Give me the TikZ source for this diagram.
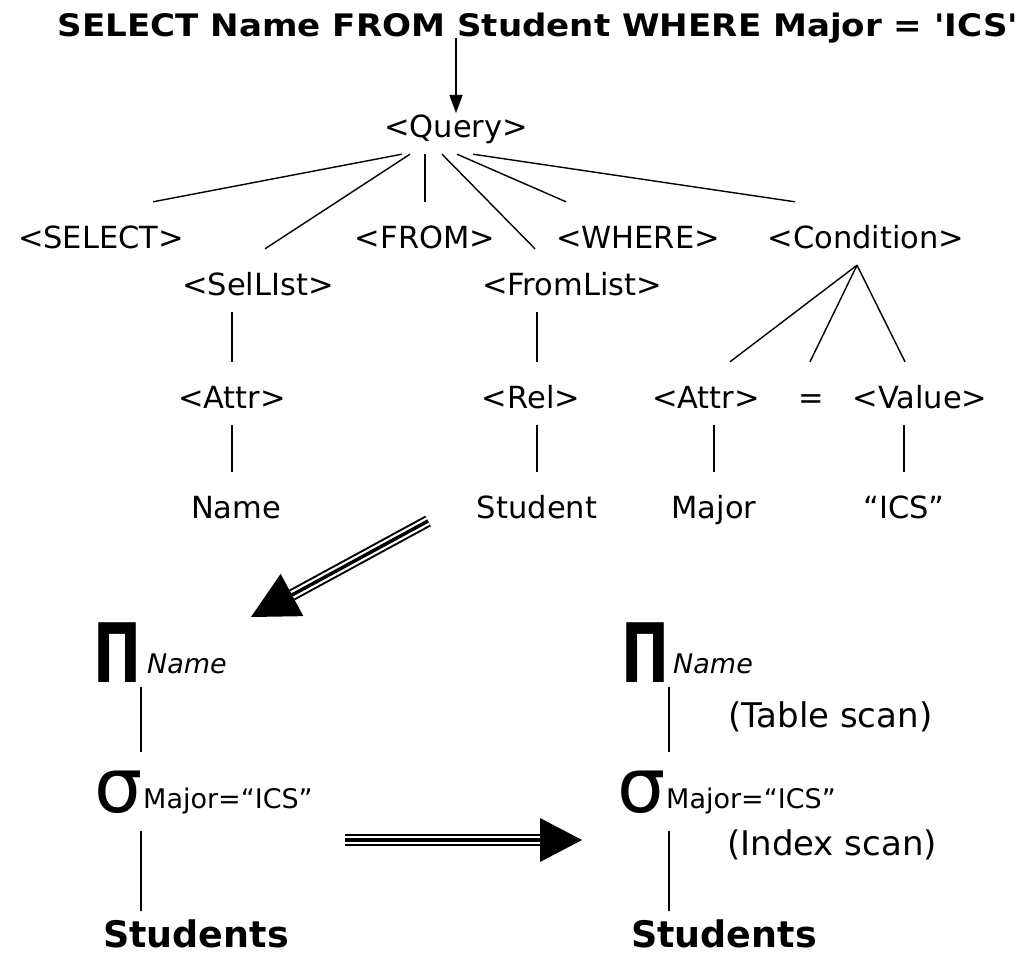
\documentclass[tikz,border=0pt]{standalone}
\usepackage{fontspec}
\setmainfont{DejaVu Sans}[ItalicFont={DejaVu Sans Oblique},BoldFont={DejaVu Sans Bold},BoldItalicFont={DejaVu Sans Bold Oblique}]
\usetikzlibrary{calc,arrows.meta}
\begin{document}
\begin{tikzpicture}[x=1pt,y=-1pt,
  titletext/.style={font=\fontsize{31}{36}\selectfont\bfseries, inner sep=0pt, anchor=base},
  treetext/.style={font=\fontsize{30.5}{36}\selectfont, inner xsep=0pt, inner ysep=6pt,
                   text height=40pt, text depth=11pt, anchor=base},
  edge/.style={line width=1.4pt},
  subtext/.style={font=\fontsize{27}{32}\selectfont, inner sep=0pt, anchor=base west},
  scantext/.style={font=\fontsize{34}{40}\selectfont, inner sep=0pt, anchor=base west},
  pisym/.style={font=\fontsize{82}{90}\selectfont\bfseries, inner sep=0pt, anchor=base east},
  sigsym/.style={font=\fontsize{76}{84}\selectfont, inner sep=0pt, anchor=base east},
  studtext/.style={font=\fontsize{36.5}{42}\selectfont\bfseries, inner sep=0pt, anchor=base},
  shaftrim/.style={line width=2pt, double=white, double distance=8pt},
  shaftcore/.style={line width=3.5pt}
]
\useasboundingbox (0,0) rectangle (1027,955);

% SQL statement
\node[titletext] (sql) at (538,37)
  {\scalebox{1.1}[1]{SELECT Name FROM Student WHERE Major = \textquotesingle ICS\textquotesingle}};

% parse tree
\node[treetext] (query)    at (456,137) {<Query>};
\node[treetext] (select)   at (101,248) {<SELECT>};
\node[treetext] (from)     at (425,248) {<FROM>};
\node[treetext] (where)    at (638,248) {<WHERE>};
\node[treetext] (cond)     at (866,248) {<Condition>};
\node[treetext] (sellist)  at (258,295) {<SelLIst>};
\node[treetext] (fromlist) at (572,295) {<FromList>};
\node[treetext] (attr1)    at (232,408) {<Attr>};
\node[treetext] (rel)      at (531,408) {<Rel>};
\node[treetext] (attr2)    at (706,408) {<Attr>};
\node[treetext] (eq)       at (811,408) {=};
\node[treetext] (value)    at (920,408) {<Value>};
\node[treetext] (name1)    at (236,518) {Name};
\node[treetext] (student)  at (537,518) {Student};
\node[treetext] (major)    at (714,518) {Major};
\node[treetext] (ics)      at (904,518) {“ICS”};

\draw[edge, -{Triangle[length=18pt,width=13pt]}]
  ([yshift=-1pt]sql.base -| query) -- ($(query.base)+(0,-24)$);

\draw[edge] ([xshift=-54pt]query.south) -- ([xshift=52pt]select.north);
\draw[edge] ([xshift=-46pt]query.south) -- ([xshift=7pt]sellist.north);
\draw[edge] (from.north |- query.south) -- (from.north);
\draw[edge] ([xshift=-14pt]query.south) -- ([xshift=-37pt]fromlist.north);
\draw[edge] ([xshift=1pt]query.south) -- ([xshift=-72pt]where.north);
\draw[edge] ([xshift=17pt]query.south) -- ([xshift=-71pt]cond.north);

\draw[edge] (sellist.south -| attr1) -- (attr1.north);
\draw[edge] (attr1.south) -- (attr1.south |- name1.north);
\draw[edge] (fromlist.south -| student) -- (rel.north -| student);
\draw[edge] (rel.south -| student) -- (student.north);

\draw[edge] ([xshift=-9pt]cond.south) -- ([xshift=24pt]attr2.north);
\draw[edge] ([xshift=-9pt]cond.south) -- ([xshift=-1pt]eq.north);
\draw[edge] ([xshift=-9pt]cond.south) -- ([xshift=-15pt]value.north);
\draw[edge] (attr2.south -| major) -- (major.north);
\draw[edge] (value.south -| ics) -- (ics.north);

% logical plan
\node[pisym]    (pi1)  at (142,682) {\scalebox{0.7}[1]{Π}};
\node[subtext]  (pn1)  at (147,673) {\itshape Name};
\node[sigsym]   (sig1) at (143,812) {σ};
\node[subtext]  (sc1)  at (143,808) {Major=“ICS”};
\node[studtext] (stud1) at (196,947) {Students};

\draw[edge] ($(pi1.south east)+(-1,5)$) -- ($(pi1.south east |- sig1.north)+(-1,-18)$);
\draw[edge] ($(pi1.south east |- sig1.south)+(-1,18)$) -- ($(pi1.south east |- stud1.north)+(-1,-8)$);

% physical plan
\node[pisym]    (pi2)  at (670,682) {\scalebox{0.7}[1]{Π}};
\node[subtext]  (pn2)  at (673,673) {\itshape Name};
\node[sigsym]   (sig2) at (666,812) {σ};
\node[subtext]  (sc2)  at (666,808) {Major=“ICS”};
\node[scantext] (tscan) at (728,727) {(Table scan)};
\node[scantext] (iscan) at (727,855) {(Index scan)};
\node[studtext] (stud2) at (724,947) {Students};

\draw[edge] ($(pi2.south east)+(-1,5)$) -- ($(pi2.south east |- sig2.north)+(-1,-18)$);
\draw[edge] ($(pi2.south east |- sig2.south)+(-1,18)$) -- ($(pi2.south east |- stud2.north)+(-1,-8)$);

% translation arrows
\coordinate (dS) at (428,521);
\coordinate (dB) at (292,595);
\coordinate (dT) at (251,617);
\draw[shaftrim] (dS) -- (dB);
\draw[shaftcore] (dS) -- (dB);
\fill (dT) -- ($(dB)!24pt!90:(dT)$) -- ($(dB)!24pt!-90:(dT)$) -- cycle;

\coordinate (hS) at (345,840);
\coordinate (hB) at (540,840);
\coordinate (hT) at (582,840);
\draw[shaftrim] (hS) -- (hB);
\draw[shaftcore] (hS) -- (hB);
\fill (hT) -- ($(hB)!22pt!90:(hT)$) -- ($(hB)!22pt!-90:(hT)$) -- cycle;
\end{tikzpicture}
\end{document}
